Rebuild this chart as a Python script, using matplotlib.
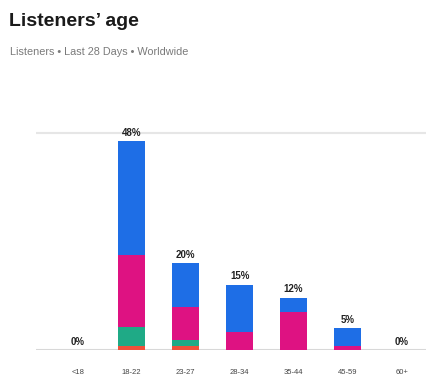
import matplotlib
matplotlib.use("Agg")
import matplotlib.pyplot as plt
import numpy as np

categories = ["<18", "18-22", "23-27", "28-34", "35-44", "45-59", "60+"]
totals = [0, 48, 20, 15, 12, 5, 0]
red = [0, 1.0, 1.0, 0, 0, 0, 0]
green = [0, 4.3, 1.2, 0, 0, 0, 0]
pink = [0, 16.5, 7.6, 4.1, 8.7, 1.0, 0]
blue = [0, 26.2, 10.2, 10.9, 3.3, 4.0, 0]

colors = {"red": "#F0503A", "green": "#1FAA86", "pink": "#DE1282", "blue": "#1E6EE6"}

fig = plt.figure(figsize=(4.27, 3.76), dpi=100)
ax = fig.add_axes([36/427, 26/376, 391/427, 239/376])
x = np.arange(len(categories))
bottom = np.zeros(len(categories))
for vals, c in [(red, "red"), (green, "green"), (pink, "pink"), (blue, "blue")]:
    ax.bar(x, vals, width=0.5, bottom=bottom, color=colors[c], linewidth=0, zorder=3)
    bottom += np.array(vals)

for xi, t, b in zip(x, totals, bottom):
    ax.annotate(f"{t}%", (xi, b), xytext=(0, 2.5), textcoords="offset points",
                ha="center", va="bottom", fontsize=7, fontweight="bold", color="#222222",
                family=["Liberation Sans", "DejaVu Sans"])

ax.axhline(0, color="#d8d8d8", lw=1.5, zorder=1)
ax.axhline(50, color="#e6e6e6", lw=1.5, zorder=1)
ax.set_xlim(-0.77, 6.47)
ax.set_ylim(0, 55)
ax.set_xticks(x)
ax.set_xticklabels(categories, fontsize=5.5, color="#444444", family=["Liberation Sans", "DejaVu Sans"])
ax.tick_params(axis="x", length=0, pad=14)
ax.set_yticks([])
for s in ax.spines.values():
    s.set_visible(False)

fig.text(9/427, 1 - 22/376, "Listeners’ age", fontsize=14, fontweight="heavy", color="#1a1a1a",
         family=["Liberation Sans", "DejaVu Sans"], va="center", ha="left")
fig.text(10/427, 1 - 52/376, "Listeners • Last 28 Days • Worldwide", fontsize=7.8, color="#7a7a7a",
         family=["Liberation Sans", "DejaVu Sans"], va="center", ha="left")

fig.savefig("out.png", dpi=100)
